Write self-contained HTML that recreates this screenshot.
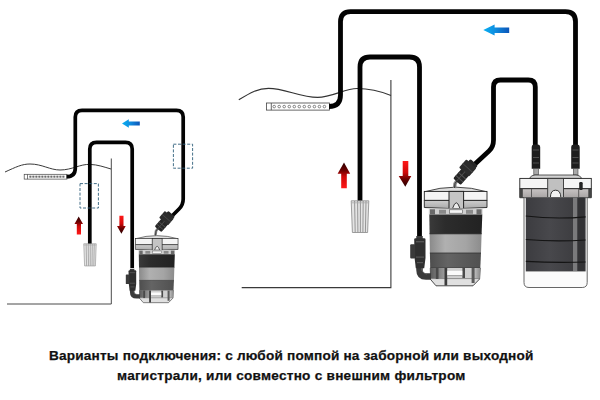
<!DOCTYPE html>
<html><head><meta charset="utf-8">
<style>
html,body{margin:0;padding:0;background:#fff;width:600px;height:400px;overflow:hidden}
svg{position:absolute;left:0;top:0}
.ln{position:absolute;left:0;width:600px;white-space:nowrap;font-family:"Liberation Sans",sans-serif;font-weight:bold;font-size:13.6px;color:#111;line-height:20px;-webkit-text-stroke:0.25px #111}
</style></head><body>
<svg width="600" height="400" viewBox="0 0 600 400">
<defs>
  <linearGradient id="blu" x1="0" x2="1" y1="0" y2="0">
    <stop offset="0" stop-color="#08b0f2"/><stop offset="0.45" stop-color="#0f8ee0"/><stop offset="1" stop-color="#0c55b8"/>
  </linearGradient>
  <linearGradient id="redUp" x1="0" x2="0" y1="0" y2="1">
    <stop offset="0" stop-color="#2a0000"/><stop offset="0.3" stop-color="#6a0000"/><stop offset="0.55" stop-color="#d00808"/><stop offset="1" stop-color="#ff1818"/>
  </linearGradient>
  <linearGradient id="redDn" x1="0" x2="0" y1="0" y2="1">
    <stop offset="0" stop-color="#ff1818"/><stop offset="0.45" stop-color="#d00808"/><stop offset="0.7" stop-color="#6a0000"/><stop offset="1" stop-color="#2a0000"/>
  </linearGradient>
  <linearGradient id="greyband" x1="0" x2="0" y1="0" y2="1">
    <stop offset="0" stop-color="#7a7a7a"/><stop offset="0.5" stop-color="#a8a8a8"/><stop offset="1" stop-color="#7a7a7a"/>
  </linearGradient>
  <linearGradient id="bDark" x1="0" x2="1" y1="0" y2="0">
    <stop offset="0" stop-color="#3a3a3a"/><stop offset="0.3" stop-color="#2c2c2c"/><stop offset="1" stop-color="#222"/>
  </linearGradient>
  <linearGradient id="bGrey" x1="0" x2="1" y1="0" y2="0">
    <stop offset="0" stop-color="#8a8a8a"/><stop offset="0.3" stop-color="#b0b0b0"/><stop offset="0.7" stop-color="#a4a4a4"/><stop offset="1" stop-color="#8c8c8c"/>
  </linearGradient>
  <linearGradient id="bMid" x1="0" x2="1" y1="0" y2="0">
    <stop offset="0" stop-color="#4e4e4e"/><stop offset="0.35" stop-color="#646464"/><stop offset="1" stop-color="#505050"/>
  </linearGradient>
  <linearGradient id="capgrey2" x1="0" x2="0" y1="0" y2="1">
    <stop offset="0" stop-color="#c8c4c4"/><stop offset="1" stop-color="#a8a4a4"/>
  </linearGradient>
  <linearGradient id="media" x1="0" x2="1" y1="0" y2="0">
    <stop offset="0" stop-color="#3c3c40"/><stop offset="0.4" stop-color="#48484c"/><stop offset="1" stop-color="#38383b"/>
  </linearGradient>
  <linearGradient id="baseTop" x1="0" x2="1" y1="0" y2="0">
    <stop offset="0" stop-color="#5a5a5a"/><stop offset="0.28" stop-color="#9a9a9a"/><stop offset="0.35" stop-color="#d0d0d0"/><stop offset="0.85" stop-color="#cfcfcf"/><stop offset="1" stop-color="#8a8a8a"/>
  </linearGradient>
  <linearGradient id="capgrey" x1="0" x2="0" y1="0" y2="1">
    <stop offset="0" stop-color="#cdcdcd"/><stop offset="1" stop-color="#aaaaaa"/>
  </linearGradient>

  <!-- middle pump drawn in absolute coords of right diagram -->
  <g id="pump">
    <!-- cap dome -->
    <path d="M424.3,191.8 Q455.6,182.5 487,191.8 Z" fill="#dedede" stroke="#333" stroke-width="0.9"/>
    <!-- white band -->
    <rect x="424.3" y="191.4" width="62.7" height="9" fill="#f4f4f4" stroke="#222" stroke-width="0.9"/>
    <!-- grey band -->
    <path d="M424.3,200.4 L487,200.4 L487,207.5 Q455.6,210 424.3,207.5 Z" fill="url(#capgrey)" stroke="#222" stroke-width="0.9"/>
    <!-- centre piece -->
    <rect x="449" y="191.4" width="14.6" height="17.5" fill="#c4c4c4" stroke="#222" stroke-width="1"/>
    <path d="M452.5,208.5 Q456.3,197 460,208.5 Z" fill="#ececec" stroke="#222" stroke-width="0.9"/>
    <!-- rim -->
    <rect x="428.8" y="208.5" width="53.8" height="6.2" fill="#cfcfcf"/>
    <rect x="430" y="209.3" width="5" height="5" fill="#6a6a6a"/>
    <rect x="439" y="209.8" width="7" height="4" fill="#8a8a8a"/>
    <rect x="449.5" y="209.8" width="13" height="3.4" fill="#f4f4f4" stroke="#555" stroke-width="0.6"/>
    <rect x="466" y="209.8" width="7" height="4" fill="#8a8a8a"/>
    <rect x="476.5" y="209.3" width="5" height="5" fill="#6a6a6a"/>
    <!-- body bands -->
    <path d="M429.3,214.5 L482.3,214.5 L481.6,234 L429.6,234 Z" fill="url(#bDark)"/>
    <path d="M429.6,233.7 L481.6,233.7 L481,253.2 L429.9,253.2 Z" fill="url(#bGrey)"/>
    <path d="M429.9,252.9 L481,252.9 L480.3,268.2 L430.2,268.2 Z" fill="url(#bMid)"/>
    <line x1="429.6" y1="233.8" x2="481.6" y2="233.8" stroke="#222" stroke-width="0.8"/>
    <line x1="429.9" y1="253" x2="481" y2="253" stroke="#333" stroke-width="0.8"/>
    <!-- bottom transparent base -->
    <path d="M430.3,268 L480.2,268 L479.6,279 L473,285.8 L436,285.8 L430.6,279.5 Z" fill="#e0e0e0" stroke="#3a3a3a" stroke-width="0.9"/>
    <path d="M430.3,268 L480.2,268 L479.8,278.5 L430.5,278.5 Z" fill="url(#baseTop)"/>
    <line x1="431" y1="278.6" x2="479.5" y2="278.6" stroke="#777" stroke-width="0.8"/>
    <rect x="435.8" y="268" width="2.7" height="11" fill="#4a4a4a"/>
    <rect x="444.5" y="268" width="2.7" height="17.5" fill="#3c3c3c"/>
    <rect x="462.4" y="268" width="2.6" height="10" fill="#4a4a4a"/>
    <rect x="471.6" y="268" width="3" height="15" fill="#5a5a5a"/>
    <rect x="447.3" y="270.8" width="15" height="4.4" fill="#fafafa"/>
    <line x1="447.3" y1="275.6" x2="462.3" y2="275.6" stroke="#888" stroke-width="0.7"/>
    <!-- left inlet valve block -->
    <path d="M419.5,236 L419.5,270 Q419.5,276.5 426,276.5 L431,276.5" stroke="#3a3a3a" stroke-width="6.5" fill="none"/>
    <path d="M421.5,268 Q422,273.5 427,274" stroke="#666" stroke-width="0.9" fill="none"/>
    <path d="M414.2,239.5 Q414.2,238.2 415.5,238.2 L424.2,238.2 Q425.5,238.2 425.5,239.5 L425.5,258 L424.2,268.2 L415.8,268.2 L414.6,258 Z" fill="#2f2f2f"/>
    <rect x="410.2" y="244.2" width="5" height="14.3" rx="1" fill="#3a3a3a"/>
    <rect x="416" y="241" width="8" height="1.4" fill="#555"/>
    <rect x="416" y="256.5" width="8" height="1.2" fill="#555"/>
    <rect x="417" y="262" width="6" height="1.2" fill="#555"/>
  </g>

  <g id="valve">
    <rect x="-13" y="-5" width="26" height="10" rx="1.5" fill="#262626"/>
    <rect x="-1" y="-7.8" width="11" height="13.4" rx="1" fill="#2c2c2c"/>
    <rect x="-13" y="-1" width="13" height="0.9" fill="#4c4c4c"/>
    <rect x="-9.5" y="-5" width="0.9" height="10" fill="#555"/>
    <rect x="-5.5" y="-5" width="0.9" height="10" fill="#555"/>
    <rect x="4" y="-7.8" width="0.9" height="13.4" fill="#4a4a4a"/>
  </g>
>
  <!-- strainer (middle size) -->
  <g id="strainer">
    <path d="M351.2,200.8 L368.8,200.8 L367.6,232.5 L352.4,232.5 Z" fill="#e4e4e4" stroke="#888" stroke-width="0.8"/>
    <path d="M354.6,201 L355.2,232.3 M357.6,201 L357.9,232.3 M360.4,201 L360.4,232.3 M363.2,201 L362.9,232.3 M366,201 L365.4,232.3" stroke="#8c8c8c" stroke-width="0.9"/>
    <line x1="351.3" y1="202.8" x2="368.7" y2="202.8" stroke="#aaa" stroke-width="0.8"/>
  </g>
</defs>

<!-- ============ LEFT DIAGRAM ============ -->
<!-- tank -->
<path d="M111.3,158.5 L111.3,304 L7,304" stroke="#4a4a4a" stroke-width="1" fill="none"/>
<!-- wave -->
<path d="M5,172 C16,167 22,164 30,164 C42,164 50,170 60,170 C72,170 80,164 90,164.4 C98,164.7 104,167 111,169" stroke="#3a3a3a" stroke-width="1" fill="none"/>
<!-- spray bar -->
<rect x="24.2" y="174.3" width="42.8" height="4.8" fill="#fff" stroke="#444" stroke-width="0.7"/>
<line x1="27.5" y1="174.3" x2="27.5" y2="179.1" stroke="#444" stroke-width="0.7"/>
<g fill="none" stroke="#555" stroke-width="0.6">
<rect x="29.7" y="176" width="1.4" height="1.4"/><rect x="32.7" y="176" width="1.4" height="1.4"/><rect x="35.7" y="176" width="1.4" height="1.4"/><rect x="38.7" y="176" width="1.4" height="1.4"/><rect x="41.7" y="176" width="1.4" height="1.4"/><rect x="44.7" y="176" width="1.4" height="1.4"/><rect x="47.7" y="176" width="1.4" height="1.4"/><rect x="50.7" y="176" width="1.4" height="1.4"/><rect x="53.7" y="176" width="1.4" height="1.4"/><rect x="56.7" y="176" width="1.4" height="1.4"/><rect x="59.7" y="176" width="1.4" height="1.4"/><rect x="62.7" y="176" width="1.4" height="1.4"/>
</g>
<!-- tubes -->
<g stroke="#030303" stroke-width="3.7" fill="none" stroke-linejoin="round">
  <path d="M66.5,176.7 Q75.3,176.7 75.3,168 L75.3,117 Q75.3,110.3 82,110.3 L176.5,110.3 Q183.2,110.3 183.2,117 L183.2,199 Q183.2,205 179,209 L170,218"/>
  <path d="M89.8,244 L89.8,149 Q89.8,142.3 96.5,142.3 L125.5,142.3 Q132.2,142.3 132.2,149 L132.2,268"/>
</g>
<!-- dashed boxes -->
<g fill="none" stroke="#2f5f7a" stroke-width="0.9" stroke-dasharray="3,1.6">
  <rect x="80" y="183.6" width="18.4" height="24.4"/>
  <rect x="173.4" y="144.2" width="19.2" height="24"/>
</g>
<!-- strainer (left) -->
<use href="#strainer" transform="translate(83.75,243.75) scale(0.71,0.70) translate(-351.2,-200.8)"/>
<!-- arrows -->
<path d="M122,123.5 L128.8,119.3 L128.8,121.5 L139.8,121.5 L139.8,125.4 L128.8,125.4 L128.8,127.7 Z" fill="url(#blu)"/>
<path d="M78.7,216.5 L83,224 L81,224 L81,234.5 L76.8,234.5 L76.8,224 L74.5,224 Z" fill="url(#redUp)"/>
<path d="M119.4,215.8 L123.5,215.8 L123.5,226 L125.7,226 L121.4,233.7 L117,226 L119.4,226 Z" fill="url(#redDn)"/>
<!-- left pump -->
<use href="#pump" transform="translate(135.4,235.5) scale(0.68) translate(-424.3,-187)"/>
<path d="M159,227 L156,231 L155.4,235.5" stroke="#888" stroke-width="2.6" fill="none"/>
<path d="M159,227 L156,231 L155.4,235.5" stroke="#333" stroke-width="0.8" fill="none"/>
<use href="#valve" transform="translate(164.8,221.5) rotate(-49) scale(0.8,0.88)"/>

<!-- ============ RIGHT DIAGRAM ============ -->
<path d="M390.9,80 L390.9,287.6 L241.7,287.6" stroke="#3a3a3a" stroke-width="1.1" fill="none"/>
<path d="M238.8,99.8 C250,93 258,88.3 268.5,88.3 C285,88.3 300,97.4 317.6,97.4 C332,97.4 345,88.5 357,88.5 C370,88.5 380,91 391,95.5" stroke="#333" stroke-width="1.15" fill="none"/>
<!-- spray bar -->
<rect x="266.4" y="103" width="63" height="7.1" fill="#fff" stroke="#444" stroke-width="0.8"/>
<line x1="271.3" y1="103" x2="271.3" y2="110.1" stroke="#444" stroke-width="0.8"/>
<g fill="none" stroke="#555" stroke-width="0.7">
<circle cx="274.2" cy="106.6" r="1.3"/><circle cx="279.2" cy="106.6" r="1.3"/><circle cx="284.2" cy="106.6" r="1.3"/><circle cx="289.3" cy="106.6" r="1.3"/><circle cx="294.3" cy="106.6" r="1.3"/><circle cx="299.3" cy="106.6" r="1.3"/><circle cx="304.3" cy="106.6" r="1.3"/><circle cx="309.3" cy="106.6" r="1.3"/><circle cx="314.4" cy="106.6" r="1.3"/><circle cx="319.4" cy="106.6" r="1.3"/><circle cx="324.4" cy="106.6" r="1.3"/>
</g>
<!-- tubes -->
<g stroke="#030303" stroke-width="4.8" fill="none" stroke-linejoin="round">
  <path d="M329,106.5 Q340.5,106.5 340.5,95 L340.5,21.6 Q340.5,11.6 350.5,11.6 L565.5,11.6 Q575.5,11.6 575.5,21.6 L575.5,147"/>
  <path d="M360,201 L360,67 Q360,57 370,57 L409.5,57 Q419.5,57 419.5,67 L419.5,239"/>
  <path d="M535.3,147 L535.3,87 Q535.3,80 528.3,80 L500.5,80 Q493.5,80 493.5,87 L493.5,140 Q493.5,147 489,151 L475,164"/>
</g>
<use href="#strainer"/>
<!-- arrows -->
<path d="M483.3,30 L494.6,24.6 L494.6,27.5 L509.2,27.5 L509.2,32.9 L494.6,32.9 L494.6,35.4 Z" fill="url(#blu)"/>
<path d="M344,162.5 L350.2,173.7 L346.8,173.7 L346.8,188.3 L341.2,188.3 L341.2,173.7 L337.6,173.7 Z" fill="url(#redUp)"/>
<path d="M402.7,161 L408.3,161 L408.3,176 L411.3,176 L405.3,186.8 L398.7,176 L402.7,176 Z" fill="url(#redDn)"/>
<!-- middle pump -->
<use href="#pump"/>
<path d="M457.5,180 L455,183.5 L454.6,188" stroke="#888" stroke-width="3.4" fill="none"/>
<path d="M457.5,180 L455,183.5 L454.6,188" stroke="#333" stroke-width="1" fill="none"/>
<use href="#valve" transform="translate(465.5,172) rotate(-48)"/>

<!-- external filter -->
<g>
  <!-- connectors -->
  <g fill="#1e1e1e">
    <path d="M531.7,147 Q531.7,144.5 534,144.5 L538,144.5 Q540.2,144.5 540.2,147 L540.2,168.7 L531.7,168.7 Z"/>
    <path d="M571.2,147 Q571.2,144.5 573.5,144.5 L577.5,144.5 Q579.7,144.5 579.7,147 L579.7,168.7 L571.2,168.7 Z"/>
  </g>
  <g stroke="#555" stroke-width="0.9">
    <line x1="533" y1="150" x2="539" y2="150"/><line x1="533" y1="157.5" x2="539" y2="157.5"/><line x1="533" y1="163" x2="539" y2="163"/>
    <line x1="572.5" y1="150" x2="578.5" y2="150"/><line x1="572.5" y1="157.5" x2="578.5" y2="157.5"/><line x1="572.5" y1="163" x2="578.5" y2="163"/>
  </g>
  <rect x="533.8" y="168.7" width="4.7" height="6.2" fill="#a8a8a8" stroke="#444" stroke-width="0.6"/>
  <rect x="573.3" y="168.7" width="4.7" height="6.2" fill="#a8a8a8" stroke="#444" stroke-width="0.6"/>
  <!-- cap -->
  <path d="M529.5,178.4 Q531,175 535,175 L576,175 Q580,175 581.8,178.4 Z" fill="#d2d2d2" stroke="#333" stroke-width="0.8"/>
  <rect x="519.8" y="178.4" width="71.5" height="10.3" fill="#f4f4f4" stroke="#222" stroke-width="0.9"/>
  <path d="M519.8,188.7 L591.3,188.7 L591.3,197.7 L519.8,197.7 Z" fill="url(#capgrey2)" stroke="#222" stroke-width="0.9"/>
  <rect x="519.8" y="188.7" width="3" height="9" fill="#444"/>
  <rect x="588.3" y="188.7" width="3" height="9" fill="#444"/>
  <line x1="531.5" y1="188.7" x2="531.5" y2="197.7" stroke="#444" stroke-width="0.8"/>
  <line x1="578.7" y1="188.7" x2="578.7" y2="197.7" stroke="#444" stroke-width="0.8"/>
  <rect x="547.7" y="178.4" width="15.8" height="19.3" fill="#c0c0c0" stroke="#333" stroke-width="0.9"/>
  <path d="M550.4,197.7 Q550.4,190.2 555.6,190.2 Q560.8,190.2 560.8,197.7 Z" fill="#f2f2f2" stroke="#222" stroke-width="0.9"/>
  <rect x="579.2" y="182" width="3.5" height="8" rx="1.2" fill="#222"/>
  <!-- body -->
  <path d="M524,197.7 L587.2,197.7 L587.2,282.5 Q587.2,287.5 582.2,287.5 L529,287.5 Q524,287.5 524,282.5 Z" fill="#fbfbfb" stroke="#666" stroke-width="1"/>
  <rect x="525.8" y="197.7" width="59.8" height="73.3" fill="url(#media)"/>
  <rect x="573" y="197.7" width="4.5" height="73.3" fill="#7a7a7c"/><rect x="577.5" y="197.7" width="7" height="73.3" fill="#333336"/>
  <g stroke="#141414" stroke-width="1.2" fill="none">
    <path d="M525.8,216 Q555,219.5 585.6,216.8"/>
    <path d="M525.8,239.5 Q555,242 585.6,240"/>
    <path d="M525.8,261.3 Q555,263 585.6,262"/>
  </g>
  <line x1="525.8" y1="271.5" x2="585.6" y2="271.5" stroke="#999" stroke-width="0.8"/>
</g>
</svg>
<div class="ln" style="top:346px;left:49px;letter-spacing:0.2px">Варианты подключения: с любой помпой на заборной или выходной</div>
<div class="ln" style="top:366px;left:117px;letter-spacing:0.25px">магистрали, или совместно с внешним фильтром</div>
</body></html>
